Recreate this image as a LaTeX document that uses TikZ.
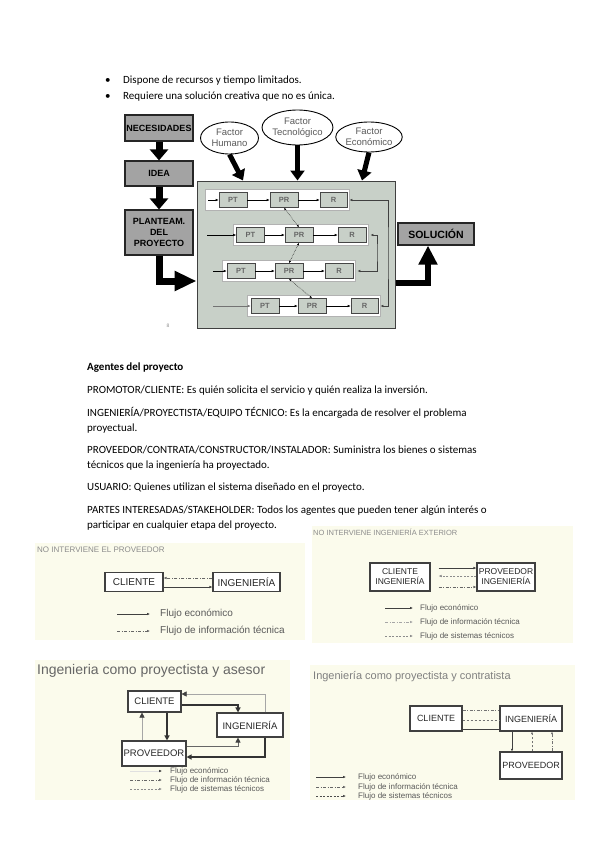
\documentclass[tikz,border=0pt]{standalone}
\usepackage{fontspec}
\setmainfont{Carlito}
\newfontfamily\arialf{Liberation Sans}
\usetikzlibrary{arrows.meta,calc,shapes.geometric}
\definecolor{boxgray}{HTML}{A3A3A3}
\definecolor{panelc}{HTML}{C8D0C8}
\definecolor{creamc}{HTML}{FBFBEC}
\definecolor{factxt}{HTML}{5A5A5A}
\definecolor{dline}{HTML}{404040}
\tikzset{
 txt/.style={anchor=base west, inner sep=0, font=\fontsize{11}{13}\selectfont},
 blk/.style={draw=black!85, line width=1.2pt, fill=boxgray, inner sep=0, align=center, font=\arialf\bfseries\fontsize{9}{11}\selectfont},
 panelbox/.style={draw=black!75, line width=1pt, fill=panelc, inner sep=0},
 fac/.style={ellipse, draw=black, line width=.9pt, fill=white, inner sep=0, align=center, text=factxt, font=\arialf\fontsize{9.5}{11.5}\selectfont},
 fatA/.style={line width=7pt, -{Triangle[length=11pt,width=18pt]}},
 fatB/.style={line width=7pt, -{Triangle[length=22pt,width=19pt]}},
 fatC/.style={line width=5pt, -{Triangle[length=10pt,width=14pt]}},
 rowbox/.style={draw=gray!60, line width=.8pt, fill=white, inner sep=0, minimum height=21},
 sbox/.style={draw=gray!55!black, line width=.6pt, fill=panelc, inner sep=0, minimum width=28, minimum height=15, text=black!60, font=\arialf\bfseries\fontsize{7.5}{8}\selectfont},
 sarr/.style={line width=.6pt, -{Latex[length=3pt,width=2.6pt]}},
 dotarr/.style={line width=.5pt, densely dotted, {Latex[length=2.5pt,width=2.2pt]}-{Latex[length=2.5pt,width=2.2pt]}},
 fb/.style={line width=.7pt, draw=black!75, {Latex[length=3pt,width=2.6pt]}-{Latex[length=3pt,width=2.6pt]}},
 bbox/.style={draw=dline, line width=1.1pt, fill=white, inner sep=0, align=center, text=black!85},
 ttl/.style={anchor=west, inner sep=0},
 leg/.style={anchor=west, inner sep=0, text=black!65},
 ecoL/.style={line width=.6pt, draw=black!75, -{Latex[length=3pt,width=2.6pt]}},
 infL/.style={line width=.6pt, draw=black!60, dash pattern=on 3pt off 1.5pt on 1pt off 1.5pt, -{Latex[length=3pt,width=2.6pt]}},
 sisL/.style={line width=.6pt, draw=black!45, dash pattern=on 2pt off 1.5pt, -{Latex[length=3pt,width=2.6pt]}},
 thk/.style={line width=1.3pt, draw=black!80, -{Triangle[length=5pt,width=5pt]}},
 lgt/.style={line width=.6pt, draw=black!35, -{Triangle[length=5pt,width=5pt,color=black!75]}},
 mid/.style={line width=.8pt, draw=black!60, -{Triangle[length=5pt,width=5pt,color=black!75]}},
}
\begin{document}
\begin{tikzpicture}[x=1pt,y=-1pt]
\fill[white] (0,0) rectangle (599,848);
\useasboundingbox (0,0) rectangle (599,848);

% ---------- bullets
\node[txt] (b1) at (105,83.5) {•};
\node[txt] (l1) at (123,83.5) {Dispone de recursos y tiempo limitados.};
\node[txt] (b2) at (105,99.5) {•};
\node[txt] (l2) at (123,99.5) {Requiere una solución creativa que no es única.};

% ---------- main diagram
\node[panelbox, minimum width=198, minimum height=147] (pan) at (296,254.5) {};
\node[blk, minimum width=68, minimum height=26] (nec) at (159,128) {NECESIDADES};
\node[blk, minimum width=68, minimum height=25] (idea) at (159,173.5) {IDEA};
\node[blk, minimum width=68, minimum height=45] (plan) at (159,232.5) {PLANTEAM.\\DEL\\PROYECTO};
\node[blk, minimum width=76, minimum height=22, font=\arialf\bfseries\fontsize{10.5}{12}\selectfont] (sol) at (436,234) {SOLUCIÓN};

\node[fac, minimum width=58, minimum height=32] (fh) at (229.5,138) {Factor\\Humano};
\node[fac, minimum width=70, minimum height=35] (ft) at (297.5,127.5) {Factor\\Tecnológico};
\node[fac, minimum width=64, minimum height=30] (fe) at (369,137) {Factor\\Económico};

\draw[fatA] (nec.south) -- (idea.north);
\draw[fatA] (idea.south) -- (plan.north);
\draw[fatB] (plan.south) |- (pan.west |- 0,281);
\draw[fatC] (fh.south) -- (pan.north -| 243,0);
\draw[fatC] (ft.south) -- (pan.north -| 297.5,0);
\draw[fatC] (fe.south) -- (pan.north -| 362,0);
\draw[line width=6pt, -{Triangle[length=19pt,width=18pt]}] (pan.east |- 0,283) -| (sol.south -| 428,0);

% rows
\node[rowbox, minimum width=144] (w1) at (277,200) {};
\node[rowbox, minimum width=135] (w2) at (300.5,235) {};
\node[rowbox, minimum width=133] (w3) at (288.5,271) {};
\node[rowbox, minimum width=133] (w4) at (313.5,306) {};

\node[sbox] (pt1) at (233,200) {PT};
\node[sbox] (pr1) at (284,200) {PR};
\node[sbox, minimum width=27] (r1) at (333.5,200) {R};
\node[sbox] (pt2) at (250.5,235) {PT};
\node[sbox] (pr2) at (299,235) {PR};
\node[sbox] (r2) at (352,235) {R};
\node[sbox] (pt3) at (241,271) {PT};
\node[sbox] (pr3) at (289,271) {PR};
\node[sbox] (r3) at (339,271) {R};
\node[sbox] (pt4) at (265,306) {PT};
\node[sbox] (pr4) at (312,306) {PR};
\node[sbox, minimum width=27] (r4) at (364.5,306) {R};

\coordinate (in1) at (208,200);
\coordinate (in2) at (207,235);
\coordinate (in3) at (213,271);
\coordinate (in4) at (213,306);
\draw[sarr] (in1) -- (pt1.west);
\draw[sarr] (in2) -- (pt2.west);
\draw[sarr] (in3) -- (pt3.west);
\draw[sarr, draw=black!55] (in4) -- (pt4.west);
\foreach \i in {1,2,3,4}{
  \draw[sarr] (pt\i.east) -- (pr\i.west);
  \draw[sarr] (pr\i.east) -- (r\i.west);
}
\draw[dotarr] (pr1.south) -- (pr2.north);
\draw[dotarr] (pr2.south) -- (pr3.north);
\draw[dotarr] (pr3.south) -- (pr4.north);

\coordinate (fo) at (388,253);
\coordinate (fi) at (377,252);
\draw[fb] (w1.east) -| (fo) |- (w4.east);
\draw[fb] ([xshift=2pt]w2.east) -| (fi) |- ([xshift=2pt]w3.east);

\node[font=\arialf\fontsize{5}{6}\selectfont, text=black!45] (pg) at (168,326) {8};

% ---------- text block
\node[txt, font=\bfseries\fontsize{11}{13}\selectfont] (a0) at (87,370.5) {Agentes del proyecto};
\node[txt] (a1) at (87,393.5) {PROMOTOR/CLIENTE: Es quién solicita el servicio y quién realiza la inversión.};
\node[txt] (a2) at (87,416.5) {INGENIERÍA/PROYECTISTA/EQUIPO TÉCNICO: Es la encargada de resolver el problema};
\node[txt] (a3) at (87,431) {proyectual.};
\node[txt] (a4) at (87,453.5) {PROVEEDOR/CONTRATA/CONSTRUCTOR/INSTALADOR: Suministra los bienes o sistemas};
\node[txt] (a5) at (87,468) {técnicos que la ingeniería ha proyectado.};
\node[txt] (a6) at (87,490.5) {USUARIO: Quienes utilizan el sistema diseñado en el proyecto.};
\node[txt] (a7) at (87,513.5) {PARTES INTERESADAS/STAKEHOLDER: Todos los agentes que pueden tener algún interés o};
\node[txt] (a8) at (87,528) {participar en cualquier etapa del proyecto.};

% ---------- diagram 1
\fill[creamc] (35,543) rectangle (305,640);
\node[ttl, font=\arialf\fontsize{8}{9}\selectfont, text=black!45] (t1) at (37,550) {NO INTERVIENE EL PROVEEDOR};
\node[bbox, minimum width=58, minimum height=19, font=\arialf\fontsize{10}{11}\selectfont] (c1) at (134,582) {CLIENTE};
\node[bbox, minimum width=67, minimum height=19, font=\arialf\fontsize{10}{11}\selectfont] (i1) at (246.5,582) {INGENIERÍA};
\draw[infL] (i1.west |- 0,578) -- (c1.east |- 0,578);
\draw[ecoL] (c1.east |- 0,587) -- (i1.west |- 0,587);
\coordinate (d1a) at (117,614); \coordinate (d1b) at (150,614);
\coordinate (d1c) at (117,631); \coordinate (d1d) at (150,631);
\draw[ecoL] (d1a) -- (d1b);
\draw[infL] (d1c) -- (d1d);
\node[leg, font=\arialf\fontsize{10}{11}\selectfont] (g11) at (160,614) {Flujo económico};
\node[leg, font=\arialf\fontsize{10}{11}\selectfont] (g12) at (160,631) {Flujo de información técnica};

% ---------- diagram 2
\fill[creamc] (312,526) rectangle (573,643);
\node[ttl, font=\arialf\fontsize{7.5}{9}\selectfont, text=black!45] (t2) at (313,532) {NO INTERVIENE INGENIERÍA EXTERIOR};
\node[bbox, minimum width=60, minimum height=28, font=\arialf\fontsize{8.5}{10}\selectfont] (c2) at (400,577) {CLIENTE\\INGENIERÍA};
\node[bbox, minimum width=58, minimum height=28, font=\arialf\fontsize{8.5}{10}\selectfont] (p2) at (506,577) {PROVEEDOR\\INGENIERÍA};
\draw[ecoL, shorten <=8pt] (c2.east |- 0,568) -- (p2.west |- 0,568);
\draw[sisL, -{Latex[length=3pt,width=2.6pt]}, shorten >=8pt] (p2.west |- 0,576) -- (c2.east |- 0,576);
\draw[infL, shorten <=8pt] (c2.east |- 0,587) -- (p2.west |- 0,587);
\coordinate (d2a) at (385,608); \coordinate (d2b) at (413,608);
\coordinate (d2c) at (385,622); \coordinate (d2d) at (413,622);
\coordinate (d2e) at (385,636); \coordinate (d2f) at (413,636);
\draw[ecoL] (d2a) -- (d2b);
\draw[infL, draw=black!35] (d2c) -- (d2d);
\draw[sisL] (d2e) -- (d2f);
\node[leg, font=\arialf\fontsize{8}{9}\selectfont] (g21) at (420,608) {Flujo económico};
\node[leg, font=\arialf\fontsize{8}{9}\selectfont] (g22) at (420,622) {Flujo de información técnica};
\node[leg, font=\arialf\fontsize{8}{9}\selectfont] (g23) at (420,636) {Flujo de sistemas técnicos};

% ---------- diagram 3
\fill[creamc] (35,660) rectangle (290,800);
\node[ttl, font=\arialf\fontsize{14}{15}\selectfont, text=black!60] (t3) at (37,671) {Ingenieria como proyectista y asesor};
\node[bbox, minimum width=53, minimum height=21, font=\arialf\fontsize{9.5}{11}\selectfont] (c3) at (154.5,701.5) {CLIENTE};
\node[bbox, minimum width=66, minimum height=24, font=\arialf\fontsize{9.5}{11}\selectfont] (i3) at (250,725) {INGENIERÍA};
\node[bbox, minimum width=64, minimum height=25, font=\arialf\fontsize{9.5}{11}\selectfont] (p3) at (154,753.5) {PROVEEDOR};
\draw[thk] (c3.east |- 0,705) -| (i3.north -| 238,0);
\draw[lgt] (i3.north -| 265,0) |- (c3.east |- 0,694);
\draw[thk] (i3.south -| 265,0) |- (p3.east |- 0,757);
\draw[thk] (c3.south -| 167,0) -- (p3.north -| 167,0);
\draw[lgt] (p3.north -| 142,0) -- (c3.south -| 142,0);
\draw[mid] (p3.east |- 0,746) -| (i3.south -| 238,0);
\coordinate (d3a) at (130,771); \coordinate (d3b) at (162,771);
\coordinate (d3c) at (130,780); \coordinate (d3d) at (162,780);
\coordinate (d3e) at (130,789); \coordinate (d3f) at (162,789);
\draw[line width=.5pt, draw=black!12, -{Latex[length=3pt,width=2.6pt,color=black!75]}] (d3a) -- (d3b);
\draw[infL] (d3c) -- (d3d);
\draw[sisL] (d3e) -- (d3f);
\node[leg, font=\arialf\fontsize{8}{9}\selectfont] (g31) at (170,771) {Flujo económico};
\node[leg, font=\arialf\fontsize{8}{9}\selectfont] (g32) at (170,780) {Flujo de información técnica};
\node[leg, font=\arialf\fontsize{8}{9}\selectfont] (g33) at (170,789) {Flujo de sistemas técnicos};

% ---------- diagram 4
\fill[creamc] (310,665) rectangle (575,800);
\node[ttl, font=\arialf\fontsize{11}{12}\selectfont, text=black!50] (t4) at (313,677) {Ingeniería como proyectista y contratista};
\node[bbox, minimum width=52, minimum height=25, font=\arialf\fontsize{9}{11}\selectfont] (c4) at (436,718.5) {CLIENTE};
\node[bbox, minimum width=62, minimum height=25, font=\arialf\fontsize{9}{11}\selectfont] (i4) at (531,718.5) {INGENIERÍA};
\node[bbox, minimum width=62, minimum height=27, font=\arialf\fontsize{9}{11}\selectfont] (p4) at (531,765.5) {PROVEEDOR};
\draw[line width=.6pt, draw=black!55, dash pattern=on 3pt off 1.5pt on 1pt off 1.5pt] (c4.east |- 0,710) -- (i4.west |- 0,710);
\draw[line width=.6pt, draw=black!55, dash pattern=on 2.5pt off 1.5pt] (c4.east |- 0,720) -- (i4.west |- 0,720);
\draw[line width=.6pt, draw=black!75] (c4.east |- 0,729) -- (i4.west |- 0,729);
\draw[line width=.7pt, draw=black!75, -{Latex[length=2.5pt,width=2.2pt]}] (i4.south -| 512,0) -- (p4.north -| 512,0);
\draw[line width=.6pt, draw=black!55, dash pattern=on 2.5pt off 1.5pt, -{Latex[length=2.5pt,width=2.2pt]}] (p4.north -| 532,0) -- (i4.south -| 532,0);
\draw[line width=.6pt, draw=black!55, dash pattern=on 3pt off 1.5pt on 1pt off 1.5pt, -{Latex[length=2.5pt,width=2.2pt]}] (p4.north -| 552,0) -- (i4.south -| 552,0);
\coordinate (d4a) at (316,777); \coordinate (d4b) at (346,777);
\coordinate (d4c) at (316,787); \coordinate (d4d) at (346,787);
\coordinate (d4e) at (316,796); \coordinate (d4f) at (346,796);
\draw[ecoL] (d4a) -- (d4b);
\draw[infL] (d4c) -- (d4d);
\draw[sisL, draw=black!70] (d4e) -- (d4f);
\node[leg, font=\arialf\fontsize{8}{9}\selectfont] (g41) at (358,777) {Flujo económico};
\node[leg, font=\arialf\fontsize{8}{9}\selectfont] (g42) at (358,787) {Flujo de información técnica};
\node[leg, font=\arialf\fontsize{8}{9}\selectfont] (g43) at (358,796) {Flujo de sistemas técnicos};
\end{tikzpicture}
\end{document}
